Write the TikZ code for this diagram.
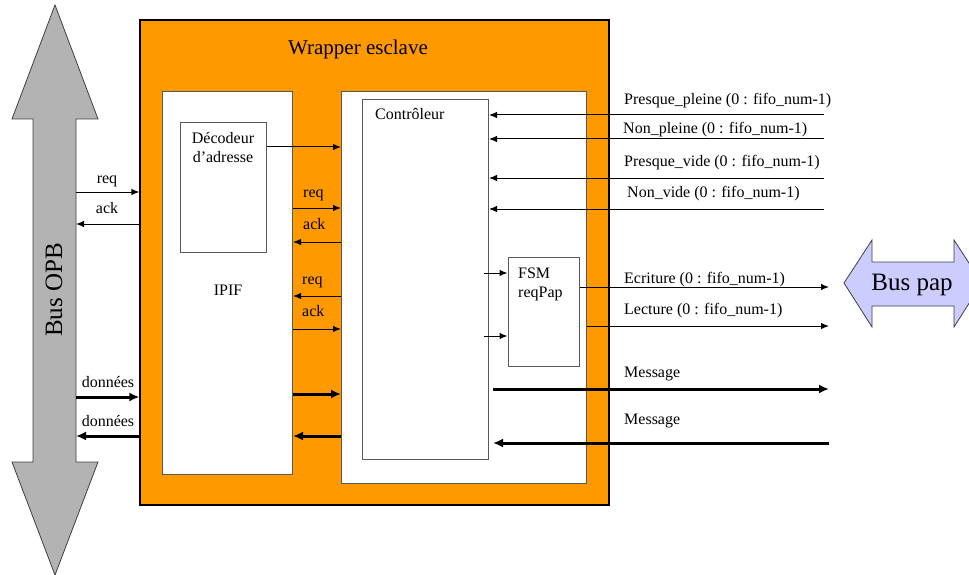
\documentclass[tikz,border=0pt]{standalone}
\usepackage{fontspec}
\setmainfont{Liberation Serif}
\usetikzlibrary{arrows.meta}
\definecolor{wrapOrange}{HTML}{FF9900}
\definecolor{busGray}{HTML}{B3B3B3}
\definecolor{busLav}{HTML}{CCCCFF}
\begin{document}
\begin{tikzpicture}[x=1pt,y=-1pt,
  box/.style={draw=black!65, fill=white, line width=1pt, inner sep=0pt},
  lbl/.style={font=\fontsize{16}{19}\selectfont, inner sep=0pt},
  sig/.style={line width=1pt, -{Latex[length=8pt,width=6.5pt]}},
  thick bus/.style={line width=3pt, -{Latex[length=10pt,width=9pt]}},
  busshape/.style={draw=black!75, line width=0.8pt}]
\useasboundingbox (0,0) rectangle (969,575);
\fill[white] (0,0) rectangle (969,575);

% Bus OPB
\draw[busshape, fill=busGray] (55,5) -- (98,119) -- (76,119) -- (76,462) -- (98,462)
  -- (55,575) -- (12,462) -- (33,462) -- (33,119) -- (12,119) -- cycle;
\node[rotate=90, font=\fontsize{25}{30}\selectfont, inner sep=0pt] (opb) at (54,290) {Bus OPB};

% Bus pap
\begin{scope}
\clip (0,0) rectangle (969,575);
\draw[busshape, fill=busLav] (844,283) -- (872,240) -- (872,262) -- (954,262) -- (954,240)
  -- (982,283) -- (954,327) -- (954,306) -- (872,306) -- (872,327) -- cycle;
\end{scope}
\node[font=\fontsize{25}{30}\selectfont, inner sep=0pt] (pap) at (912,285) {Bus pap};

% Wrapper
\node[draw=black, fill=wrapOrange, line width=1.2pt, minimum width=469pt,
  minimum height=485pt, inner sep=0pt] (wrapper) at (374.5,262.5) {};
\node[font=\fontsize{21}{25}\selectfont, inner sep=0pt, anchor=base] (title) at (358,55) {Wrapper esclave};

% IPIF
\node[box, minimum width=130pt, minimum height=382pt] (ipif) at (227.5,283) {};
\node[box, minimum width=86pt, minimum height=129pt] (dec) at (223,187.5) {};
\node[lbl, anchor=base, align=center] (dectxt) at (223,163) {Décodeur\\d’adresse};
\node[lbl, anchor=base] (ipiftxt) at (228,295) {IPIF};

% Controleur
\node[box, minimum width=245pt, minimum height=391pt] (ctrlout) at (464,287.5) {};
\node[box, minimum width=126pt, minimum height=359pt] (ctrl) at (425.5,279.5) {};
\node[lbl, anchor=base west] (ctrltxt) at (375,120) {Contrôleur};
\node[box, minimum width=71pt, minimum height=109pt] (fsm) at (543.5,311.5) {};
\node[lbl, anchor=base west, align=left] (fsmtxt) at (518,297) {FSM\\reqPap};

% reference coordinates
\coordinate (opbR) at (76,0);
\coordinate (rEnd) at (824,0);
\coordinate (rArr) at (829,0);

% left connections
\coordinate (y1) at (0,192);
\coordinate (y2) at (0,224);
\coordinate (y3) at (0,397);
\coordinate (y4) at (0,436);
\draw[sig] (opbR |- y1) -- (wrapper.west |- y1);
\draw[sig] (wrapper.west |- y2) -- (opbR |- y2);
\draw[thick bus] (opbR |- y3) -- (wrapper.west |- y3);
\draw[thick bus] (wrapper.west |- y4) -- (opbR |- y4);
\node[lbl, anchor=base] (l1) at (107,183) {req};
\node[lbl, anchor=base] (l2) at (107,213) {ack};
\node[lbl, anchor=base] (l3) at (108,387) {données};
\node[lbl, anchor=base] (l4) at (108,426) {données};

% IPIF <-> controleur
\coordinate (m0) at (0,147);
\coordinate (m1) at (0,208);
\coordinate (m2) at (0,242);
\coordinate (m3) at (0,296);
\coordinate (m4) at (0,329);
\coordinate (m5) at (0,394);
\coordinate (m6) at (0,436);
\draw[sig] (dec.east |- m0) -- (ctrlout.west |- m0);
\draw[sig] (ipif.east |- m1) -- (ctrlout.west |- m1);
\draw[sig] (ctrlout.west |- m2) -- (ipif.east |- m2);
\draw[sig] (ctrlout.west |- m3) -- (ipif.east |- m3);
\draw[sig] (ipif.east |- m4) -- (ctrlout.west |- m4);
\draw[thick bus] (ipif.east |- m5) -- (ctrlout.west |- m5);
\draw[thick bus] (ctrlout.west |- m6) -- (ipif.east |- m6);
\node[lbl, anchor=base west] (ml1) at (303,197) {req};
\node[lbl, anchor=base west] (ml2) at (303,229) {ack};
\node[lbl, anchor=base west] (ml3) at (302,284) {req};
\node[lbl, anchor=base west] (ml4) at (302,316) {ack};

% FSM inputs
\coordinate (f1) at (0,273);
\coordinate (f2) at (0,336);
\draw[sig] ([xshift=-5pt]ctrl.east |- f1) -- (fsm.west |- f1);
\draw[sig] ([xshift=-5pt]ctrl.east |- f2) -- (fsm.west |- f2);

% right side status inputs
\coordinate (r1) at (0,115);
\coordinate (r2) at (0,139);
\coordinate (r3) at (0,178);
\coordinate (r4) at (0,209);
\draw[sig] (rEnd |- r1) -- (ctrl.east |- r1);
\draw[sig] (rEnd |- r2) -- (ctrl.east |- r2);
\draw[sig] (rEnd |- r3) -- (ctrl.east |- r3);
\draw[sig] (rEnd |- r4) -- (ctrl.east |- r4);
\node[lbl, anchor=base west] (rl1) at (624,105) {Presque\_pleine (0 : fifo\_num-1)};
\node[lbl, anchor=base west] (rl2) at (623,134) {Non\_pleine (0 : fifo\_num-1)};
\node[lbl, anchor=base west] (rl3) at (624,166) {Presque\_vide (0 : fifo\_num-1)};
\node[lbl, anchor=base west] (rl4) at (627,197) {Non\_vide (0 : fifo\_num-1)};

% right side outputs
\coordinate (o1) at (0,287);
\coordinate (o2) at (0,326);
\coordinate (o3) at (0,389);
\coordinate (o4) at (0,443);
\draw[sig] (fsm.east |- o1) -- (rArr |- o1);
\draw[sig] (ctrlout.east |- o2) -- (rArr |- o2);
\draw[thick bus] ([xshift=4pt]ctrl.east |- o3) -- (rArr |- o3);
\draw[thick bus] (rArr |- o4) -- ([xshift=4pt]ctrl.east |- o4);
\node[lbl, anchor=base west] (ol1) at (624,283) {Ecriture (0 : fifo\_num-1)};
\node[lbl, anchor=base west] (ol2) at (624,314) {Lecture (0 : fifo\_num-1)};
\node[lbl, anchor=base west] (ol3) at (624,377) {Message};
\node[lbl, anchor=base west] (ol4) at (624,424) {Message};
\end{tikzpicture}
\end{document}
